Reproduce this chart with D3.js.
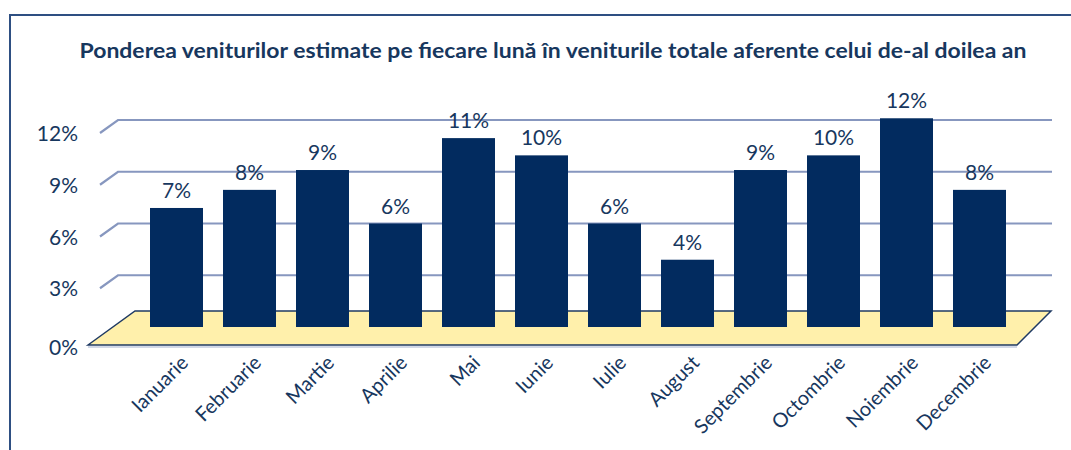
<!DOCTYPE html>
<meta charset="utf-8">
<head>
  <title>Ponderea veniturilor</title>
</head>
<script src="https://d3js.org/d3.v7.min.js"></script>
<style>
  body { margin: 0; background: #fff; }
  text { font-family: Lato, "Open Sans", sans-serif; }
</style>
<body>
  <div id="chart"></div>
</body>
<script>
  // data (share of each month, in %)
  var months = ["Ianuarie", "Februarie", "Martie", "Aprilie", "Mai", "Iunie",
    "Iulie", "August", "Septembrie", "Octombrie", "Noiembrie", "Decembrie"];
  var shares = [6.9, 7.95, 9.1, 6.0, 10.95, 9.95, 6.0, 3.9, 9.1, 9.95, 12.1, 7.95];
  var yTicks = [0, 3, 6, 9, 12];
  var title = "Ponderea veniturilor estimate pe fiecare lună în veniturile totale aferente celui de-al doilea an";

  var width = 1071, height = 450;
  var navy = "#022b5f", textCol = "#17375e", gridCol = "#8797bf";

  var svg = d3.select("#chart")
    .append("svg")
    .attr("width", width)
    .attr("height", height)

  // outer frame (only top and left edges visible)
  svg.append("path")
    .attr("d", "M10,450 L10,15 L1071,15")
    .attr("fill", "none")
    .attr("stroke", "#2e4f82")
    .attr("stroke-width", 2)

  svg.append("text")
    .attr("x", 553)
    .attr("y", 58)
    .attr("text-anchor", "middle")
    .attr("font-weight", "bold")
    .attr("font-size", 21)
    .attr("textLength", 947)
    .attr("lengthAdjust", "spacingAndGlyphs")
    .attr("fill", textCol)
    .text(title)

  var x = d3.scaleBand()
    .domain(months)
    .range([140, 1016])
    .paddingInner(0.274)
    .paddingOuter(0.137);

  var y = d3.scaleLinear()
    .domain([0, 12])
    .range([327, 120]);

  // back wall gridlines with the side-wall slant
  var wallLeft = 118, wallRight = 1052, slantX = 18, slantY = 13;
  var grid = svg.append("g")
  grid.selectAll("path")
    .data(yTicks.filter(function (d) { return d > 0; }))
    .enter()
    .append("path")
    .attr("d", function (d) {
      return "M" + (wallLeft - slantX) + "," + (y(d) + slantY) +
        " L" + wallLeft + "," + y(d) + " L" + wallRight + "," + y(d);
    })
    .attr("fill", "none")
    .attr("stroke", gridCol)
    .attr("stroke-width", 2.2)

  // floor plate
  var floorBack = y(0) - 16, floorFront = y(0) + 18;
  svg.append("path")
    .attr("d", "M88," + floorFront + " L135," + floorBack + " L1051," + floorBack +
      " L1017," + floorFront + " Z")
    .attr("fill", "#fff0ab")
    .attr("stroke", "#1f3a63")
    .attr("stroke-width", 1.5)
  svg.append("line")
    .attr("x1", 88).attr("x2", 1017)
    .attr("y1", floorFront + 2).attr("y2", floorFront + 2)
    .attr("stroke", "#c3cde0")
    .attr("stroke-width", 1.5)

  // y labels
  svg.append("g")
    .selectAll("text")
    .data(yTicks)
    .enter()
    .append("text")
    .attr("x", 78)
    .attr("y", function (d) { return d === 0 ? floorFront + 10 : y(d) + slantY + 8; })
    .attr("text-anchor", "end")
    .attr("font-size", 21)
    .attr("fill", textCol)
    .text(function (d) { return d + "%"; })

  // bars
  svg.append("g")
    .selectAll("rect")
    .data(shares)
    .enter()
    .append("rect")
    .attr("x", function (d, i) { return x(months[i]); })
    .attr("y", function (d) { return y(d); })
    .attr("width", x.bandwidth())
    .attr("height", function (d) { return y(0) - y(d); })
    .attr("fill", navy)

  // value labels
  svg.append("g")
    .selectAll("text")
    .data(shares)
    .enter()
    .append("text")
    .attr("x", function (d, i) { return x(months[i]) + x.bandwidth() / 2; })
    .attr("y", function (d) { return y(d) - 10; })
    .attr("text-anchor", "middle")
    .attr("font-size", 21)
    .attr("fill", textCol)
    .text(function (d) { return Math.round(d) + "%"; })

  // month labels, rotated
  svg.append("g")
    .selectAll("text")
    .data(months)
    .enter()
    .append("text")
    .attr("transform", function (d) {
      var cx = x(d) + x.bandwidth() / 2 + 13;
      return "translate(" + cx + "," + (floorFront + 19) + ") rotate(-45)";
    })
    .attr("text-anchor", "end")
    .attr("font-size", 20)
    .attr("fill", textCol)
    .text(function (d) { return d; })
</script>
